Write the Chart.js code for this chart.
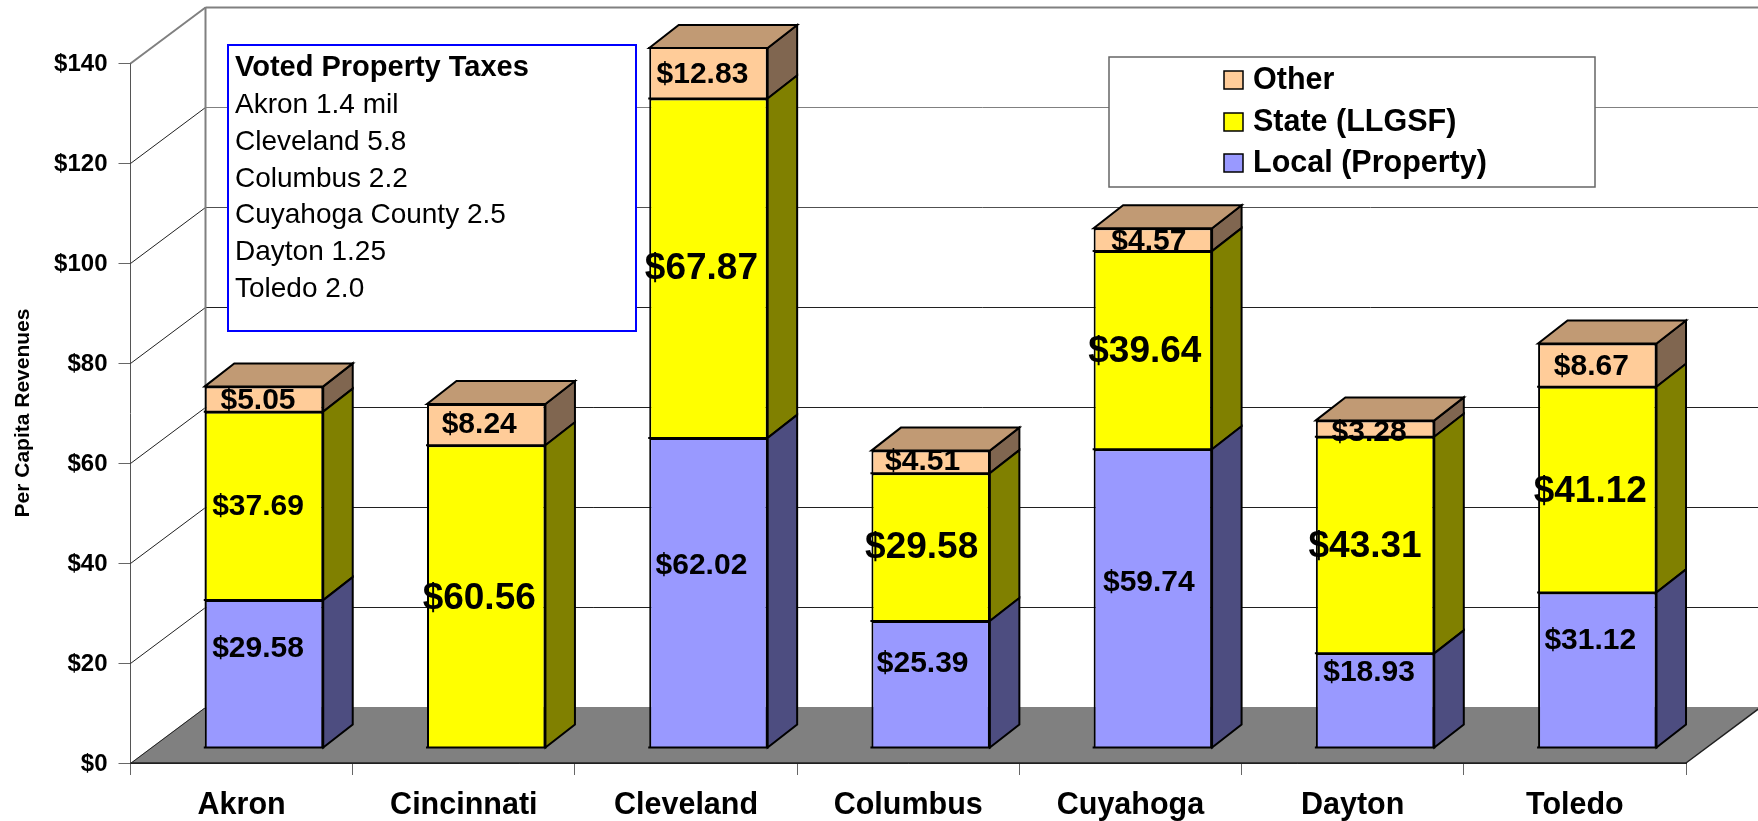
<!DOCTYPE html>
<html>
<head>
<meta charset="utf-8">
<style>html,body{margin:0;padding:0;background:#fff;overflow:hidden}canvas{display:block}</style>
<script src="https://cdn.jsdelivr.net/npm/chart.js@4/dist/chart.umd.min.js"></script>
</head>
<body>
<canvas id="c" width="1758" height="821"></canvas>
<script>
const categories = ['Akron','Cincinnati','Cleveland','Columbus','Cuyahoga','Dayton','Toledo'];
const localValues = [29.58,0,62.02,25.39,59.74,18.93,31.12];
const stateValues = [37.69,60.56,67.87,29.58,39.64,43.31,41.12];
const otherValues = [5.05,8.24,12.83,4.51,4.57,3.28,8.67];
const noteTitle = 'Voted Property Taxes';
const noteLines = ['Akron 1.4 mil','Cleveland 5.8','Columbus 2.2','Cuyahoga County 2.5','Dayton 1.25','Toledo 2.0'];

const FONT = '"Liberation Sans", Arial, sans-serif';
const WALL = {dx:75, dy:56};
const BAR = {dx:22.4, dy:15, depthX:29.5, depthY:23};
const SIDE = ['#4d4d80','#808000','#806650'];
const TOP = '#c19a74';
// hand-placed label offsets from the bar centre, per series then per category
const labelNudge = [
  [[-6,-25],[0,0],[-7,-27],[-8,-21],[-4,-16],[-6,-28],[-7,-29]],
  [[-6,1],[-7,2],[-7,1],[-9,1],[-8,2],[-10,2],[-7,2]],
  [[-6,2],[-7,0],[-6,8],[-8,0],[-4,2],[-6,4],[-6,2]]
];
const wallColor = v => v >= 120 ? '#808080' : v >= 100 ? '#505050' : '#202020';

const scene = {
  id:'scene',
  beforeDatasetsDraw(chart){
    const {ctx,chartArea:a,scales:{y}} = chart;
    const x0=a.left, x1=a.right, b=y.getPixelForValue(0);
    ctx.save();
    ctx.fillStyle='#808080';
    ctx.beginPath();
    ctx.moveTo(x0,b);ctx.lineTo(x0+WALL.dx,b-WALL.dy);ctx.lineTo(x1+WALL.dx,b-WALL.dy);ctx.lineTo(x1,b);ctx.closePath();ctx.fill();
    y.ticks.forEach(t=>{
      const p=Math.round(y.getPixelForValue(t.value))+0.5;
      // receding line on the side wall
      ctx.strokeStyle=t.value>=140?'#808080':'#202020';
      ctx.lineWidth=t.value>=140?2:1;
      ctx.beginPath();ctx.moveTo(x0,p);ctx.lineTo(x0+WALL.dx,p-WALL.dy);ctx.stroke();
      // line along the back wall
      if(t.value>0){
        ctx.strokeStyle=wallColor(t.value);
        ctx.beginPath();ctx.moveTo(x0+WALL.dx,p-WALL.dy);ctx.lineTo(x1+WALL.dx,p-WALL.dy);ctx.stroke();
      }
    });
    ctx.strokeStyle='#808080';ctx.lineWidth=2;
    ctx.beginPath();ctx.moveTo(x0+WALL.dx,b-WALL.dy);ctx.lineTo(x0+WALL.dx,y.getPixelForValue(140)-WALL.dy);ctx.stroke();
    ctx.strokeStyle='#202020';ctx.lineWidth=1.5;
    ctx.beginPath();ctx.moveTo(x1,b);ctx.lineTo(x1+WALL.dx,b-WALL.dy);ctx.stroke();
    ctx.beginPath();ctx.moveTo(x0,b);ctx.lineTo(x1,b);ctx.stroke();
    ctx.restore();
  },
  beforeDatasetDraw(chart,args){
    const {ctx,scales:{y}} = chart;
    const limit=y.getPixelForValue(140);
    ctx.save();
    ctx.translate(BAR.dx,-BAR.dy);
    ctx.lineWidth=2;ctx.strokeStyle='#000';ctx.lineJoin='miter';
    args.meta.data.forEach((el,i)=>{
      const p=el.getProps(['x','y','base','width'],true);
      if(Math.abs(p.base-p.y)<0.5) return;
      const top=Math.max(p.y,limit), R=p.x+p.width/2, L=p.x-p.width/2;
      ctx.fillStyle=SIDE[args.index];
      ctx.beginPath();
      ctx.moveTo(R,p.base);ctx.lineTo(R+BAR.depthX,p.base-BAR.depthY);ctx.lineTo(R+BAR.depthX,top-BAR.depthY);ctx.lineTo(R,top);ctx.closePath();
      ctx.fill();ctx.stroke();
      if(args.index===chart.data.datasets.length-1){
        ctx.fillStyle=TOP;
        ctx.beginPath();
        ctx.moveTo(L,top);ctx.lineTo(L+BAR.depthX,top-BAR.depthY);ctx.lineTo(R+BAR.depthX,top-BAR.depthY);ctx.lineTo(R,top);ctx.closePath();
        ctx.fill();ctx.stroke();
      }
    });
  },
  afterDatasetDraw(chart,args){
    const {ctx,scales:{y}} = chart;
    const limit=y.getPixelForValue(140);
    ctx.lineWidth=2;ctx.strokeStyle='#000';
    args.meta.data.forEach(el=>{
      const p=el.getProps(['x','y','base','width'],true);
      if(Math.abs(p.base-p.y)<0.5) return;
      const R=p.x+p.width/2, L=p.x-p.width/2;
      ctx.beginPath();ctx.moveTo(L-1,p.base);ctx.lineTo(R+1,p.base);ctx.stroke();
      if(p.y<limit){ctx.beginPath();ctx.moveTo(L-1,limit);ctx.lineTo(R+1,limit);ctx.stroke();}
    });
    ctx.restore();
  },
  afterDatasetsDraw(chart){
    const {ctx} = chart;
    ctx.save();
    // note box
    ctx.fillStyle='#fff';ctx.strokeStyle='#0000ff';ctx.lineWidth=2;
    ctx.beginPath();ctx.rect(228,45,408,286);ctx.fill();ctx.stroke();
    ctx.fillStyle='#000';ctx.textAlign='left';ctx.textBaseline='middle';
    ctx.font='bold 29px '+FONT;
    ctx.fillText(noteTitle,235,68);
    ctx.font='28px '+FONT;
    noteLines.forEach((t,i)=>ctx.fillText(t,235,105.5+i*36.7));
    // legend box
    ctx.fillStyle='#fff';ctx.strokeStyle='#666';ctx.lineWidth=1.5;
    ctx.beginPath();ctx.rect(1109,57,486,130);ctx.fill();ctx.stroke();
    ctx.font='bold 30.5px '+FONT;
    const rows=[...chart.data.datasets].reverse();
    const rowY=[80,122,163];
    rows.forEach((ds,i)=>{
      ctx.fillStyle=ds.backgroundColor;ctx.strokeStyle='#000';ctx.lineWidth=1.5;
      ctx.beginPath();ctx.rect(1224,rowY[i]-9,19,18);ctx.fill();ctx.stroke();
      ctx.fillStyle='#000';
      ctx.fillText(ds.label,1253,rowY[i]+1);
    });
    // value labels
    ctx.textAlign='center';
    chart.data.datasets.forEach((ds,d)=>{
      chart.getDatasetMeta(d).data.forEach((el,i)=>{
        const v=ds.data[i];
        if(!v) return;
        const p=el.getProps(['x','y','base'],true);
        const big=d===1&&i!==0;
        ctx.font='bold '+(big?37:30)+'px '+FONT;
        ctx.fillText('$'+v.toFixed(2),p.x+BAR.dx+labelNudge[d][i][0],(p.y+p.base)/2-BAR.dy+labelNudge[d][i][1]);
      });
    });
    ctx.restore();
  }
};

new Chart(document.getElementById('c'),{
  type:'bar',
  data:{
    labels:categories,
    datasets:[
      {label:'Local (Property)',data:localValues,backgroundColor:'#9999ff'},
      {label:'State (LLGSF)',data:stateValues,backgroundColor:'#ffff00'},
      {label:'Other',data:otherValues,backgroundColor:'#ffcc99'}
    ]
  },
  options:{
    responsive:false,
    animation:false,
    layout:{padding:{top:63,right:72,left:0,bottom:0}},
    datasets:{bar:{categoryPercentage:1,barPercentage:0.533,borderColor:'#000',borderWidth:2,inflateAmount:0}},
    plugins:{legend:{display:false},tooltip:{enabled:false}},
    scales:{
      x:{
        stacked:true,
        afterFit:s=>{s.height=58;},
        grid:{drawOnChartArea:false,tickLength:12,color:'#666'},
        border:{color:'#202020'},
        ticks:{color:'#000',padding:12,maxRotation:0,autoSkip:false,font:{family:FONT,weight:'bold',size:30.5}}
      },
      y:{
        stacked:true,min:0,max:140,
        afterFit:s=>{s.width=130.5;},
        grid:{drawOnChartArea:false,tickLength:12,color:'#666'},
        border:{color:'#555'},
        ticks:{stepSize:20,color:'#000',padding:11,labelOffset:1,callback:v=>'$'+v,font:{family:FONT,weight:'bold',size:24}},
        title:{display:true,text:'Per Capita Revenues',color:'#000',padding:{top:11,bottom:0},font:{family:FONT,weight:'bold',size:21}}
      }
    }
  },
  plugins:[scene]
});
</script>
</body>
</html>
